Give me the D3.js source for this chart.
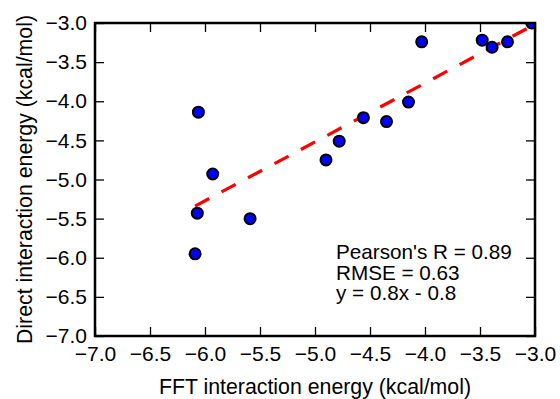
<!DOCTYPE html>
<html lang="en">
<head>
    <meta charset="UTF-8">
    <title>FFT vs direct interaction energy</title>
    <script src="https://cdn.jsdelivr.net/npm/d3@7/dist/d3.min.js"></script>
    <style>
        body { margin: 0; background: #fff; }
        text { font-family: "Liberation Sans", Arial, sans-serif; fill: #000; }
    </style>
</head>
<body>
    <div id="chart"></div>
    <script>
        // values
        var fftEnergy    = [-6.06, -5.93, -6.07, -5.59, -6.09, -4.90, -4.78, -4.56, -4.35, -4.15, -4.03, -3.48, -3.39, -3.25, -3.03];
        var directEnergy = [-4.14, -4.93, -5.43, -5.50, -5.95, -4.75, -4.51, -4.21, -4.26, -4.01, -3.24, -3.22, -3.31, -3.24, -3.00];
        var xTicks = [-7.0, -6.5, -6.0, -5.5, -5.0, -4.5, -4.0, -3.5, -3.0];
        var yTicks = [-7.0, -6.5, -6.0, -5.5, -5.0, -4.5, -4.0, -3.5, -3.0];
        var fitSlope = 0.752, fitIntercept = -0.76;
        var statLines = ["Pearson's R = 0.89", "RMSE = 0.63", "y = 0.8x - 0.8"];

        var width = 560, height = 399;
        var margin = {left: 95, right: 25, top: 23, bottom: 63};
        var pw = width - margin.left - margin.right;
        var ph = height - margin.top - margin.bottom;

        var svg = d3.select('#chart').append('svg').attr('width', width).attr('height', height);
        var g = svg.append('g').attr('transform', 'translate(' + margin.left + ',' + margin.top + ')');

        var x = d3.scaleLinear().domain([-7, -3]).range([0, pw]);
        var y = d3.scaleLinear().domain([-7, -3]).range([ph, 0]);
        var fmt = d3.format('.1f');

        svg.append('clipPath').attr('id', 'plotClip')
            .append('rect').attr('width', pw).attr('height', ph);

        // ticks on every side, pointing inward
        var tl = 9;
        g.append('g').attr('transform', 'translate(0,' + ph + ')')
            .call(d3.axisBottom(x).tickValues(xTicks).tickFormat(fmt).tickSizeInner(-tl).tickSizeOuter(0).tickPadding(10));
        g.append('g')
            .call(d3.axisTop(x).tickValues(xTicks).tickFormat('').tickSizeInner(-tl).tickSizeOuter(0));
        g.append('g')
            .call(d3.axisLeft(y).tickValues(yTicks).tickFormat(fmt).tickSizeInner(-tl).tickSizeOuter(0).tickPadding(8));
        g.append('g').attr('transform', 'translate(' + pw + ',0)')
            .call(d3.axisRight(y).tickValues(yTicks).tickFormat('').tickSizeInner(-tl).tickSizeOuter(0));
        g.selectAll('.domain').remove();
        g.selectAll('.tick line').attr('stroke', '#000').attr('stroke-width', 1.3);
        g.selectAll('.tick text').attr('font-size', 21).attr('font-family', '"Liberation Sans", Arial, sans-serif');

        var plot = g.append('g').attr('clip-path', 'url(#plotClip)');

        // regression line over the range of the data
        var xMin = d3.min(fftEnergy), xMax = d3.max(fftEnergy);
        plot.append('line')
            .attr('x1', x(xMin)).attr('y1', y(fitSlope * xMin + fitIntercept))
            .attr('x2', x(xMax)).attr('y2', y(fitSlope * xMax + fitIntercept))
            .attr('stroke', '#ff0000').attr('stroke-width', 3.2)
            .attr('stroke-dasharray', '16,14');

        plot.selectAll('circle').data(d3.range(fftEnergy.length)).enter().append('circle')
            .attr('cx', function(i){ return x(fftEnergy[i]); })
            .attr('cy', function(i){ return y(directEnergy[i]); })
            .attr('r', 5.5)
            .attr('fill', '#0000ff').attr('stroke', '#000').attr('stroke-width', 2);

        // frame
        g.append('rect').attr('width', pw).attr('height', ph)
            .attr('fill', 'none').attr('stroke', '#000').attr('stroke-width', 2.5);

        // stats text
        g.append('g').selectAll('text').data(statLines).enter().append('text')
            .attr('x', 241).attr('y', function(d, i){ return 236 + i * 20.7; })
            .attr('font-size', 20.7)
            .text(function(d){ return d; });

        svg.append('text')
            .attr('x', margin.left + pw / 2).attr('y', 394)
            .attr('text-anchor', 'middle').attr('font-size', 21.3)
            .text('FFT interaction energy (kcal/mol)');
        svg.append('text')
            .attr('transform', 'translate(32,' + (margin.top + ph / 2) + ') rotate(-90)')
            .attr('text-anchor', 'middle').attr('font-size', 21.3)
            .text('Direct interaction energy (kcal/mol)');
    </script>
</body>
</html>
